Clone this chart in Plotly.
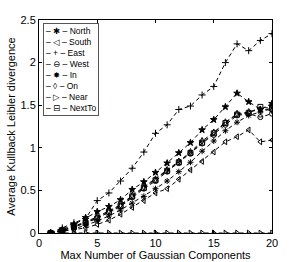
import plotly.graph_objects as go

x_vals = list(range(1, 21))
north = [0, 0.02, 0.05, 0.09, 0.14, 0.20, 0.27, 0.35, 0.43, 0.52, 0.61, 0.72, 0.83, 0.96, 1.08, 1.20, 1.30, 1.38, 1.42, 1.47]
south = [0, 0.02, 0.04, 0.06, 0.10, 0.15, 0.22, 0.30, 0.38, 0.47, 0.52, 0.63, 0.74, 0.84, 0.95, 1.07, 1.13, 1.21, 1.07, 1.09]
east = [0, 0.06, 0.12, 0.17, 0.38, 0.47, 0.61, 0.76, 0.95, 1.17, 1.27, 1.45, 1.49, 1.62, 1.72, 2.00, 2.22, 2.14, 2.26, 2.34]
west = [0, 0.03, 0.07, 0.12, 0.18, 0.24, 0.31, 0.42, 0.52, 0.61, 0.72, 0.82, 0.93, 1.05, 1.15, 1.27, 1.38, 1.40, 1.36, 1.40]
in_vals = [0, 0.04, 0.10, 0.18, 0.25, 0.31, 0.39, 0.51, 0.60, 0.71, 0.82, 0.94, 1.06, 1.21, 1.33, 1.48, 1.64, 1.54, 1.45, 1.52]
on = [0, 0.03, 0.08, 0.13, 0.19, 0.26, 0.33, 0.44, 0.54, 0.63, 0.74, 0.84, 0.95, 1.08, 1.18, 1.30, 1.40, 1.42, 1.45, 1.44]
near = [0] * 20
nextto = [0, 0.03, 0.07, 0.12, 0.17, 0.25, 0.32, 0.43, 0.53, 0.62, 0.73, 0.83, 0.94, 1.06, 1.17, 1.29, 1.39, 1.41, 1.48, 1.46]

# (name, values, plotly marker symbol, legend glyph)
series = [
    ("North", north, "asterisk-open", "✱"),
    ("South", south, "triangle-left-open", "◁"),
    ("East", east, "cross-thin-open", "+"),
    ("West", west, "circle-open", "⊖"),
    ("In", in_vals, "star", "✸"),
    ("On", on, "diamond-tall-open", "◊"),
    ("Near", near, "triangle-right-open", "▷"),
    ("NextTo", nextto, "square-open", "⊟"),
]

fig = go.Figure()
for name, ys, sym, glyph in series:
    fig.add_trace(go.Scatter(
        x=x_vals, y=ys, name=name, mode="lines+markers", showlegend=False,
        line=dict(color="black", width=1, dash="4px,3px"),
        marker=dict(symbol=sym, size=5, color="black", line=dict(color="black", width=1)),
    ))

legend_text = "<br>".join(f"– {glyph} – {name}" for name, _, _, glyph in series)
fig.add_annotation(
    xref="paper", yref="paper", x=0.017, y=0.986, xanchor="left", yanchor="top",
    text=legend_text, showarrow=False, align="left",
    font=dict(size=8.5, color="black", family="Liberation Sans, DejaVu Sans, sans-serif"),
    bgcolor="white", bordercolor="#555", borderwidth=1, borderpad=2,
)

axis_common = dict(
    showline=True, linecolor="black", linewidth=1, mirror="ticks",
    ticks="inside", ticklen=3, tickcolor="black", showgrid=False, zeroline=False,
    tickfont=dict(size=11, color="black"), automargin=False,
)
fig.update_xaxes(range=[0, 20], tickvals=[0, 5, 10, 15, 20],
                 title=dict(text="Max Number of Gaussian Components", font=dict(size=11, color="black"), standoff=0),
                 **axis_common)
fig.update_yaxes(range=[0, 2.5], tickvals=[0, 0.5, 1, 1.5, 2, 2.5], ticktext=["0", "0.5", "1", "1.5", "2", "2.5"],
                 title=dict(text="Average Kullback Leibler divergence", font=dict(size=11, color="black"), standoff=2),
                 **axis_common)
fig.update_layout(
    width=300, height=262,
    margin=dict(l=39, r=28, t=20, b=29),
    paper_bgcolor="white", plot_bgcolor="white",
    font=dict(family="Liberation Sans, Arial, sans-serif", color="black"),
    showlegend=False,
)
fig.write_html("out.html", config={"displayModeBar": False},
               post_script="document.body.style.margin='0';")
